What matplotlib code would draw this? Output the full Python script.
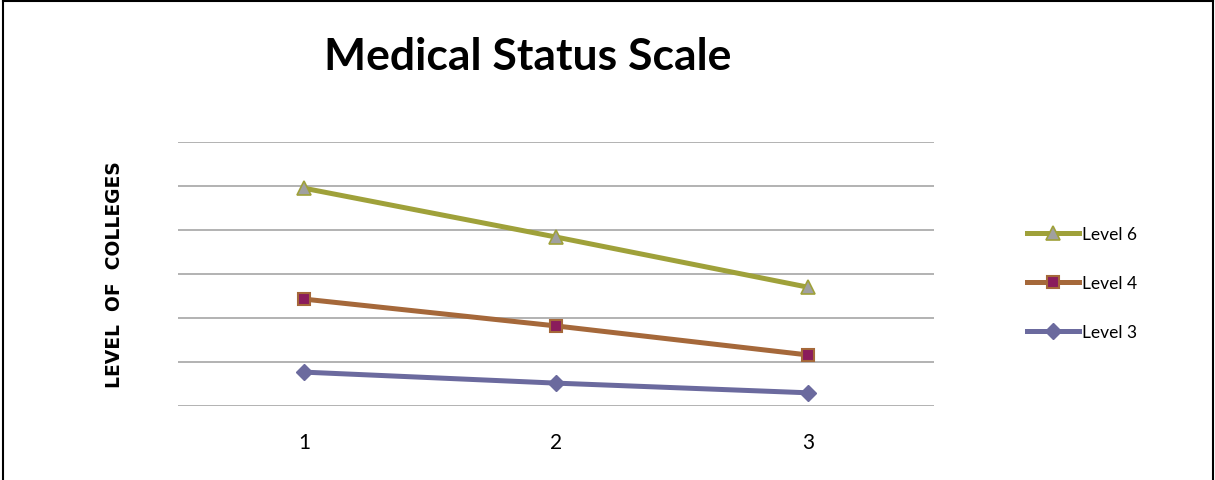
import matplotlib.pyplot as plt
from matplotlib.lines import Line2D

# data (gridline units, no y labels shown)
categories = [1, 2, 3]
level6 = [4.95, 3.84, 2.70]
level4 = [2.43, 1.82, 1.16]
level3 = [0.77, 0.52, 0.30]

plt.rcParams['font.family'] = ['Lato', 'DejaVu Sans']

fig = plt.figure(figsize=(12.15, 4.81), dpi=100)
ax = fig.add_axes([178 / 1215, 74 / 481, 756 / 1215, 264 / 481])

ax.plot(categories, level6, color='#9fa13a', lw=3.6, marker='^', ms=10,
        mfc='#a0a0a0', mec='#9fa13a', mew=1.2, label='Level 6', zorder=3)
ax.plot(categories, level4, color='#a5683a', lw=3.6, marker='s', ms=9,
        mfc='#8a1c5c', mec='#a5683a', mew=1.5, label='Level 4', zorder=3)
ax.plot(categories, level3, color='#6b6a9e', lw=3.6, marker='D', ms=8,
        mfc='#6b6a9e', mec='#6b6a9e', label='Level 3', zorder=3)

ax.set_xlim(0.5, 3.5)
ax.set_ylim(0, 6)
ax.set_yticks(range(0, 7))
ax.set_yticklabels([])
ax.set_xticks(categories)
ax.set_xticklabels(['1', '2', '3'], fontsize=15)
ax.tick_params(axis='x', length=0, pad=19)
ax.tick_params(axis='y', length=0, pad=0)
ax.grid(axis='y', color='#a6a6a6', lw=1.2)
for s in ax.spines.values():
    s.set_visible(False)

ax.set_ylabel('LEVEL  OF  COLLEGES', fontsize=13.5, fontweight='bold',
              family='DejaVu Sans', labelpad=39)

fig.text(528 / 1215, 1 - 57 / 481, 'Medical Status Scale', fontsize=32,
         fontweight='bold', ha='center', va='center')

leg = ax.legend(loc='center left', bbox_to_anchor=(1011 / 1215, 1 - 284 / 481),
                bbox_transform=fig.transFigure, frameon=False, fontsize=12.5,
                handlelength=3.0, handletextpad=0.2, labelspacing=1.88)

# outer frame
for xs, ys in [([3, 3], [481, 2]), ([3, 1213], [2, 2]), ([1213, 1213], [2, 481])]:
    fig.add_artist(Line2D([x / 1215 for x in xs], [1 - y / 481 for y in ys],
                          color='black', lw=1.5, transform=fig.transFigure))

fig.savefig('out.png', dpi=100)
